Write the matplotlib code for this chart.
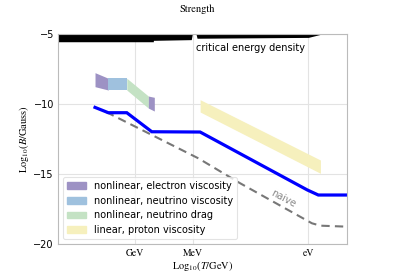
import matplotlib
matplotlib.use("Agg")
import matplotlib.pyplot as plt
import matplotlib.patches as mpatches

# log10(T/GeV) on x (axis runs from hot to cold), log10(B/Gauss) on y
strength_T = [2.08, 1.39, 0.43, -0.87, -3.38, -8.95, -9.52, -11.0]
strength_B = [-10.24, -10.62, -10.62, -11.98, -12.0, -16.14, -16.5, -16.5]

naive_T = [1.5, -3.29, -5.46, -9.19, -9.63, -11.0]
naive_B = [-10.57, -13.88, -15.66, -18.52, -18.69, -18.76]

crit_T = [4.0, -0.95, -0.95, -2.92, -2.97, -3.17, -3.22, -9.0, -9.7, -11.0]
crit_B = [-5.55, -5.55, -5.45, -5.4, -5.02, -5.02, -5.3, -5.24, -5.0, -5.0]

elec1_T = [2.08, 1.39]
elec1_top = [-7.76, -8.16]
elec1_bot = [-8.76, -9.0]

nuvisc_T = [1.39, 0.43]
nuvisc_top = [-8.16, -8.16]
nuvisc_bot = [-9.0, -9.0]

nudrag_T = [0.43, -0.69]
nudrag_top = [-8.16, -9.43]
nudrag_bot = [-9.0, -10.29]

elec2_T = [-0.69, -1.0]
elec2_top = [-9.43, -9.52]
elec2_bot = [-10.29, -10.5]

proton_T = [-3.38, -9.63]
proton_top = [-9.69, -14.0]
proton_bot = [-10.57, -14.95]

xtick_pos = [0, -3, -9]
xtick_labels = ["GeV", "MeV", "eV"]
ytick_pos = [-20, -15, -10, -5]

C_ELEC = "#9d92c4"
C_NUVISC = "#9fc1de"
C_NUDRAG = "#c4e2c4"
C_PROTON = "#f6f0bd"

plt.rcParams["mathtext.fontset"] = "stix"
plt.rcParams["font.size"] = 7

fig = plt.figure(figsize=(3.95, 2.79), dpi=100)
ax = fig.add_axes([0.147, 0.1254, 0.731, 0.7526])

ax.fill_between(crit_T, crit_B, -4.9, color="black", lw=0)
ax.text(-3.15, -6.0, "critical energy density", fontsize=7, va="center", ha="left")

ax.fill_between(elec1_T, elec1_top, elec1_bot, color=C_ELEC, lw=0)
ax.fill_between(nuvisc_T, nuvisc_top, nuvisc_bot, color=C_NUVISC, lw=0)
ax.fill_between(nudrag_T, nudrag_top, nudrag_bot, color=C_NUDRAG, lw=0)
ax.fill_between(elec2_T, elec2_top, elec2_bot, color=C_ELEC, lw=0)
ax.fill_between(proton_T, proton_top, proton_bot, color=C_PROTON, lw=0)

ax.plot(naive_T, naive_B, color="#777777", lw=1.5, ls="--", dashes=(4, 2.5))
ax.plot(strength_T, strength_B, color="blue", lw=2.3, solid_joinstyle="miter")
ax.text(-7.72, -16.74, "naive", color="#888888", fontsize=7, rotation=-28,
        ha="center", va="center")

ax.set_xlim(4, -11)
ax.set_ylim(-20, -5)
ax.set_xticks(xtick_pos)
ax.set_xticklabels(xtick_labels, fontfamily="STIXGeneral", fontsize=7)
ax.set_yticks(ytick_pos)
ax.tick_params(length=0, pad=3)
ax.grid(True, color="#e3e3e3", lw=0.8)
ax.set_axisbelow(True)
for s in ax.spines.values():
    s.set_color("#bbbbbb")
    s.set_linewidth(0.8)

ax.set_xlabel(r"$\mathrm{Log}_{10}(T/\mathrm{GeV})$", fontsize=7.5, labelpad=1)
ax.set_ylabel(r"$\mathrm{Log}_{10}(B/\mathrm{Gauss})$", fontsize=7.5, labelpad=2)
fig.text(0.5, 0.966, "Strength", ha="center", va="center",
         fontfamily="STIXGeneral", fontsize=7.5)

handles = [
    mpatches.Patch(color=C_ELEC, label="nonlinear, electron viscosity"),
    mpatches.Patch(color=C_NUVISC, label="nonlinear, neutrino viscosity"),
    mpatches.Patch(color=C_NUDRAG, label="nonlinear, neutrino drag"),
    mpatches.Patch(color=C_PROTON, label="linear, proton viscosity"),
]
leg = ax.legend(handles=handles, loc="lower left", fontsize=7, fancybox=True,
                edgecolor="#dddddd")
leg.get_frame().set_linewidth(0.8)

fig.savefig("out.png", dpi=100)
